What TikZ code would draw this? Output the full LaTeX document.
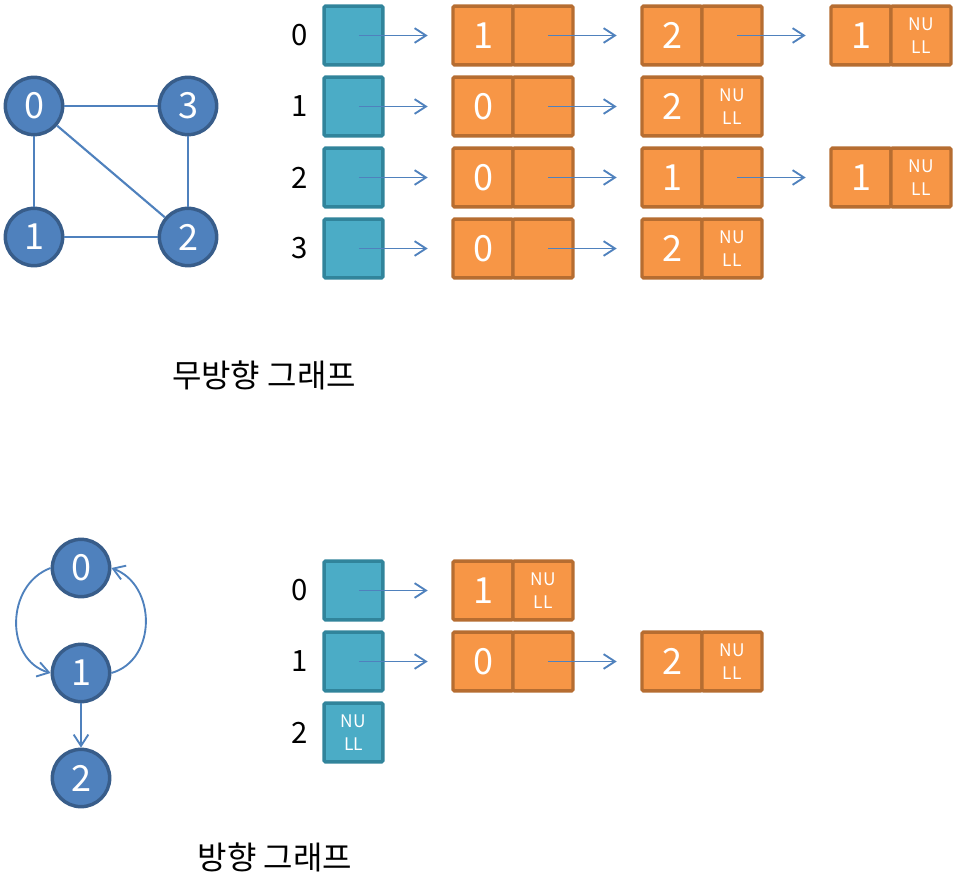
\documentclass[tikz,border=0pt]{standalone}
\usepackage{fontspec}
\setmainfont{Noto Sans CJK KR}
\usepackage{tikz}
\usetikzlibrary{arrows.meta, positioning}
\definecolor{vfill}{HTML}{4F81BD}
\definecolor{vborder}{HTML}{385D8A}
\definecolor{hfill}{HTML}{4BACC6}
\definecolor{hborder}{HTML}{31849B}
\definecolor{cfill}{HTML}{F79646}
\definecolor{cborder}{HTML}{B66D31}
\tikzstyle{vertex} = [circle, draw=vborder, fill=vfill, line width=2.6pt, minimum size=43pt, inner sep=0pt, text=white, font=\fontsize{27}{27}\selectfont]
\tikzstyle{head} = [rectangle, draw=hborder, fill=hfill, line width=2.6pt, rounded corners=1pt, minimum width=44pt, minimum height=44pt, inner sep=0pt, outer sep=0pt]
\tikzstyle{cell} = [rectangle, draw=cborder, fill=cfill, line width=2.6pt, rounded corners=1pt, minimum width=45pt, minimum height=44pt, inner sep=0pt, outer sep=0pt, text=white, font=\fontsize{27}{27}\selectfont]
\tikzstyle{nullmark} = [align=center, text=white, font=\fontsize{13}{17}\selectfont]
\tikzstyle{idx} = [font=\fontsize{22}{22}\selectfont]
\tikzstyle{title} = [font=\fontsize{24}{24}\selectfont]
\tikzstyle{edge} = [draw=vfill, line width=1.6pt]
\tikzstyle{line} = [draw=vfill, line width=1.4pt, -{Straight Barb[length=8.5pt, width=11pt, line width=1.4pt]}]
\begin{document}
\begin{tikzpicture}[x=0.75pt, y=-0.75pt]
                \useasboundingbox (0,0) rectangle (953,884);

                % Undirected graph
                \node [vertex] (v0) at (34,106) {0};
                \node [vertex] (v3) at (188,106) {3};
                \node [vertex] (v1) at (34,237) {1};
                \node [vertex] (v2) at (188,237) {2};
                \path [edge] (v0) -- (v3);
                \path [edge] (v0) -- (v1);
                \path [edge] (v0) -- (v2);
                \path [edge] (v3) -- (v2);
                \path [edge] (v1) -- (v2);

                % Undirected adjacency list
                \node [idx] (i0) at (300,35.5) {0};
                \node [idx] (i1) at (300,106.5) {1};
                \node [idx] (i2) at (300,177.5) {2};
                \node [idx] (i3) at (300,248.5) {3};
                \node [head] (h0) at (353.5,35.5) {};
                \node [head] (h1) at (353.5,106.5) {};
                \node [head] (h2) at (353.5,177.5) {};
                \node [head] (h3) at (353.5,248.5) {};

                \node [cell] (a01) at (483,35.5) {1};
                \node [cell, right=0pt of a01] (a01p) {};
                \node [cell] (a02) at (672,35.5) {2};
                \node [cell, right=0pt of a02] (a02p) {};
                \node [cell] (a03) at (861,35.5) {1};
                \node [cell, nullmark, right=0pt of a03] (a03p) {NU\\LL};

                \node [cell] (a11) at (483,106.5) {0};
                \node [cell, right=0pt of a11] (a11p) {};
                \node [cell] (a12) at (672,106.5) {2};
                \node [cell, nullmark, right=0pt of a12] (a12p) {NU\\LL};

                \node [cell] (a21) at (483,177.5) {0};
                \node [cell, right=0pt of a21] (a21p) {};
                \node [cell] (a22) at (672,177.5) {1};
                \node [cell, right=0pt of a22] (a22p) {};
                \node [cell] (a23) at (861,177.5) {1};
                \node [cell, nullmark, right=0pt of a23] (a23p) {NU\\LL};

                \node [cell] (a31) at (483,248.5) {0};
                \node [cell, right=0pt of a31] (a31p) {};
                \node [cell] (a32) at (672,248.5) {2};
                \node [cell, nullmark, right=0pt of a32] (a32p) {NU\\LL};

                \path [line] ([xshift=4pt]h0.center) -- ([xshift=-19pt]a01.west);
                \path [line] ([xshift=4pt]a01p.center) -- ([xshift=-19pt]a02.west);
                \path [line] ([xshift=4pt]a02p.center) -- ([xshift=-19pt]a03.west);
                \path [line] ([xshift=4pt]h1.center) -- ([xshift=-19pt]a11.west);
                \path [line] ([xshift=4pt]a11p.center) -- ([xshift=-19pt]a12.west);
                \path [line] ([xshift=4pt]h2.center) -- ([xshift=-19pt]a21.west);
                \path [line] ([xshift=4pt]a21p.center) -- ([xshift=-19pt]a22.west);
                \path [line] ([xshift=4pt]a22p.center) -- ([xshift=-19pt]a23.west);
                \path [line] ([xshift=4pt]h3.center) -- ([xshift=-19pt]a31.west);
                \path [line] ([xshift=4pt]a31p.center) -- ([xshift=-19pt]a32.west);

                \node [title] (t1) at (264,375) {무방향 그래프};

                % Directed graph
                \node [vertex] (d0) at (81,568) {0};
                \node [vertex] (d1) at (81,673) {1};
                \node [vertex] (d2) at (81,778) {2};
                \path [line] (d0.west) .. controls (5,585) and (5,660) .. (d1.west);
                \path [line] (d1.east) .. controls (157,660) and (157,585) .. (d0.east);
                \path [line] (d1) -- (d2);

                % Directed adjacency list
                \node [idx] (j0) at (300,590.5) {0};
                \node [idx] (j1) at (300,661.5) {1};
                \node [idx] (j2) at (300,732.5) {2};
                \node [head] (g0) at (353.5,590.5) {};
                \node [head] (g1) at (353.5,661.5) {};
                \node [head, nullmark] (g2) at (353.5,732.5) {NU\\LL};

                \node [cell] (b01) at (483,590.5) {1};
                \node [cell, nullmark, right=0pt of b01] (b01p) {NU\\LL};
                \node [cell] (b11) at (483,661.5) {0};
                \node [cell, right=0pt of b11] (b11p) {};
                \node [cell] (b12) at (672,661.5) {2};
                \node [cell, nullmark, right=0pt of b12] (b12p) {NU\\LL};

                \path [line] ([xshift=4pt]g0.center) -- ([xshift=-19pt]b01.west);
                \path [line] ([xshift=4pt]g1.center) -- ([xshift=-19pt]b11.west);
                \path [line] ([xshift=4pt]b11p.center) -- ([xshift=-19pt]b12.west);

                \node [title] (t2) at (275,857) {방향 그래프};
            \end{tikzpicture}
\end{document}
